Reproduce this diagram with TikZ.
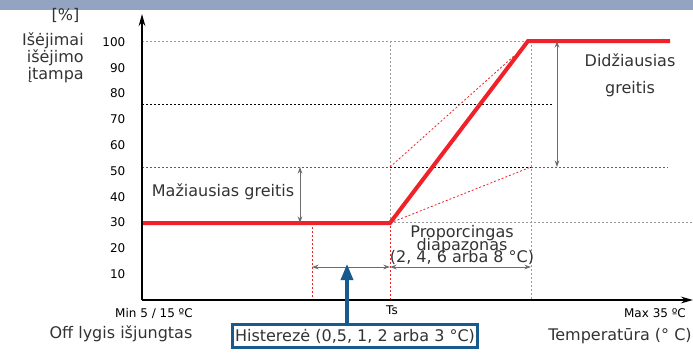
\documentclass[tikz,border=0pt]{standalone}
\usepackage{fontspec}
\setmainfont{DejaVu Sans}
\usetikzlibrary{arrows.meta}
\definecolor{kreive}{HTML}{EE2228}
\definecolor{juosta}{HTML}{93A3C2}
\definecolor{melyna}{HTML}{175A8C}
\definecolor{tekstas}{HTML}{333333}
\definecolor{pilka}{HTML}{9A9A9A}

\begin{document}
\begin{tikzpicture}[x=0.75pt,y=-0.75pt,
    tinklas/.style={pilka,line width=0.6pt,dash pattern=on 1.5pt off 1.5pt},
    raudonas/.style={kreive,line width=0.6pt,dash pattern=on 1.5pt off 1.5pt},
    juodas/.style={black,line width=0.6pt,dash pattern=on 1.8pt off 1.2pt},
    matas/.style={gray!85!black,line width=0.7pt,{Stealth[length=5pt,width=3.5pt]}-{Stealth[length=5pt,width=3.5pt]}},
    zyme/.style={font=\fontsize{9}{10}\selectfont,anchor=east},
    uzrasas/.style={text=tekstas,font=\fontsize{12}{14}\selectfont}]
    \useasboundingbox (0,0) rectangle (693,354);
    \fill[juosta] (0,0) rectangle (693,10);
    % tinklelis
    \draw[tinklas] (142,41) -- (528,41);
    \draw[juodas] (142,104) -- (552,104);
    \draw[raudonas] (142,167) -- (390,167);
    \draw[juodas] (390,167) -- (531,167);
    \draw[raudonas] (531,167) -- (668,167);
    \draw[tinklas] (390,222) -- (693,222);
    \draw[tinklas] (390,41) -- (390,222);
    \draw[tinklas] (531,41) -- (531,300);
    \draw[raudonas] (390,222) -- (390,300);
    \draw[raudonas] (312,223) -- (312,300);
    \draw[raudonas] (390,167) -- (515,55);
    \draw[raudonas] (390,223) -- (531,167);
    % kreive
    \draw[kreive,line width=3pt] (142,223) -- (390,223) -- (528,41) -- (670,41);
    % asys
    \coordinate (O) at (142,300);
    \coordinate (ymax) at (142,14);
    \coordinate (xmax) at (693,300);
    \draw[line width=1.6pt,-{Stealth[length=9pt,width=5pt]}] (O) -- (ymax);
    \draw[line width=1.6pt,-{Stealth[length=9pt,width=5pt]}] (O) -- (xmax);
    \foreach \v in {10,20,...,100}
      \node[zyme] (t\v) at (130,{300-2.58*\v}) {\v};
    \node[uzrasas,anchor=east] (proc) at (84,15) {[\%]};
    \node[uzrasas,anchor=north east,align=right,font=\fontsize{12}{13}\selectfont,inner sep=0pt] (isejimai) at (84,32) {Išėjimai\\išėjimo\\įtampa};
    % matmenys
    \draw[matas] (300,167) -- (300,223);
    \draw[matas] (557,41) -- (557,167);
    \draw[matas] (312,267) -- (390,267);
    \draw[matas] (390,267) -- (531,267);
    \node[uzrasas] (min) at (223,192) {Mažiausias greitis};
    \node[uzrasas,align=center,font=\fontsize{12}{20}\selectfont] (max) at (630,75) {Didžiausias\\greitis};
    \node[uzrasas,align=center,font={\fontsize{12}{9.4}\selectfont\lineskiplimit=-20pt\relax}] (prop) at (462,245) {Proporcingas\\diapazonas\\(2, 4, 6 arba 8 °C)};
    % apacia
    \node[font=\fontsize{9}{10}\selectfont] (minT) at (154,313) {Min 5 / 15 ºC};
    \node[font=\fontsize{9}{10}\selectfont] (ts) at (392,310) {Ts};
    \node[font=\fontsize{9}{10}\selectfont] (maxT) at (655,313) {Max 35 ºC};
    \node[uzrasas] (off) at (121,334) {Off lygis išjungtas};
    \node[uzrasas] (temp) at (620,336) {Temperatūra (° C)};
    \node[uzrasas,draw=melyna,line width=2pt,minimum width=180pt,minimum height=17pt,inner sep=2pt] (hist) at (355,336) {Histerezė (0,5, 1, 2 arba 3 °C)};
    \coordinate (hp) at (347,264);
    \draw[melyna,line width=2.5pt,-{Triangle[length=12pt,width=9pt]}] (hist.north -| hp) -- (hp);
\end{tikzpicture}
\end{document}
